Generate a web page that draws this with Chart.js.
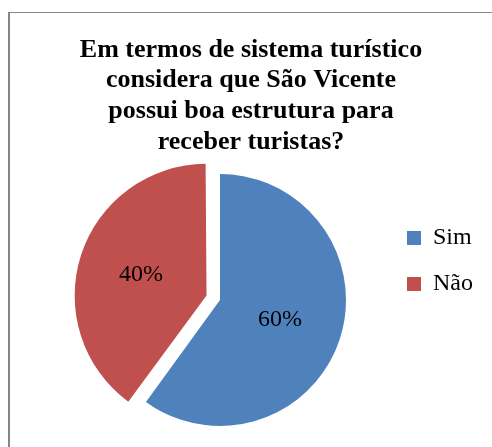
<!DOCTYPE html>
<html>
<head>
<meta charset="utf-8">
<script src="https://cdn.jsdelivr.net/npm/chart.js"></script>
<style>
    html, body { margin: 0; padding: 0; background: #fff; overflow: hidden; }
    #wrap { position: relative; width: 492px; height: 447px; }
    #frame {
        position: absolute; left: 8px; top: 12px; width: 600px; height: 600px;
        border-top: 1px solid #868686; border-left: 2px solid #868686;
    }
    canvas { position: absolute; left: 0; top: 0; }
</style>
</head>
<body>
<div id="wrap">
    <div id="frame"></div>
    <canvas id="estruturaChart" width="492" height="447"></canvas>
</div>
<script>
var categorias = ['Sim', 'Não'];
var percentagens = [60, 40];
var cores = ['#4F81BD', '#C0504D'];
var destaque = [0, 20]; // Não is pulled out of the pie
var tituloLinhas = [
    'Em termos de sistema turístico',
    'considera que São Vicente',
    'possui boa estrutura para',
    'receber turistas?'
];

var serif = '"Liberation Serif", "Times New Roman", serif';
var legendaFonte = 24;
var legendaCaixa = 14;
var legendaPad = 22;
var caixaX = 407;   // left edge of the legend squares
var centroX = 220;  // pie centre

// legend width as Chart.js computes it, so the paddings put the boxes where we want
var medir = document.createElement('canvas').getContext('2d');
medir.font = legendaFonte + 'px ' + serif;
var maiorTexto = Math.max.apply(null, categorias.map(function(c) { return medir.measureText(c).width; }));
var legendaLargura = legendaPad + legendaCaixa + legendaFonte / 2 + maiorTexto + 10;
var areaDireita = caixaX - legendaPad;
var padDireita = Math.max(492 - areaDireita - legendaLargura, 0);
var padEsquerda = 2 * centroX - areaDireita;

// percentage labels inside the slices
var rotulosPlugin = {
    id: 'rotulos',
    afterDatasetsDraw: function(chart) {
        var ctx = chart.ctx;
        var meta = chart.getDatasetMeta(0);
        ctx.save();
        ctx.font = '24px ' + serif;
        ctx.fillStyle = '#000';
        ctx.textAlign = 'center';
        ctx.textBaseline = 'middle';
        meta.data.forEach(function(arc, i) {
            var p = arc.getProps(['x', 'y', 'startAngle', 'endAngle', 'innerRadius', 'outerRadius', 'circumference']);
            var mid = (p.startAngle + p.endAngle) / 2;
            var r = (p.innerRadius + p.outerRadius) / 2;
            // same shift that ArcElement applies for offset
            var off = (arc.options.offset || 0) / 4;
            var fix = 1 - Math.sin(Math.min(Math.PI, p.circumference || 0));
            r += off + off * fix;
            ctx.fillText(percentagens[i] + '%', p.x + Math.cos(mid) * r, p.y + Math.sin(mid) * r);
        });
        ctx.restore();
    }
};

// centre the title over the whole frame, not only over chart + legend
var tituloPlugin = {
    id: 'tituloCentro',
    afterLayout: function(chart) {
        var t = chart.titleBlock;
        if (!t) return;
        t.left = 8;
        t.right = 494;
        t.width = t.right - t.left;
    }
};

var estrutura = document.getElementById('estruturaChart').getContext('2d');
var estruturaChart = new Chart(estrutura, {
    type: 'pie',
    data: {
        labels: categorias,
        datasets: [{
            data: percentagens,
            backgroundColor: cores,
            borderWidth: 0,
            offset: destaque.map(function(d) { return d / 0.353; }),
            radius: 126
        }]
    },
    options: {
        responsive: false,
        devicePixelRatio: 1,
        animation: false,
        layout: {
            padding: { top: 0, left: padEsquerda, right: padDireita, bottom: 11 }
        },
        plugins: {
            title: {
                display: true,
                text: tituloLinhas,
                color: '#000',
                font: { family: serif, size: 26, weight: 'bold', lineHeight: 1.18 },
                padding: { top: 34.75, bottom: 6.5 }
            },
            legend: {
                display: true,
                position: 'right',
                align: 'start',
                fullSize: false,
                title: {
                    display: true,
                    text: '',
                    font: { size: 10, lineHeight: 1 },
                    padding: { top: 30, bottom: 0 }
                },
                labels: {
                    color: '#000',
                    font: { family: serif, size: legendaFonte },
                    boxWidth: legendaCaixa,
                    boxHeight: legendaCaixa,
                    padding: legendaPad
                }
            },
            tooltip: { enabled: false }
        }
    },
    plugins: [rotulosPlugin, tituloPlugin]
});
</script>
</body>
</html>
